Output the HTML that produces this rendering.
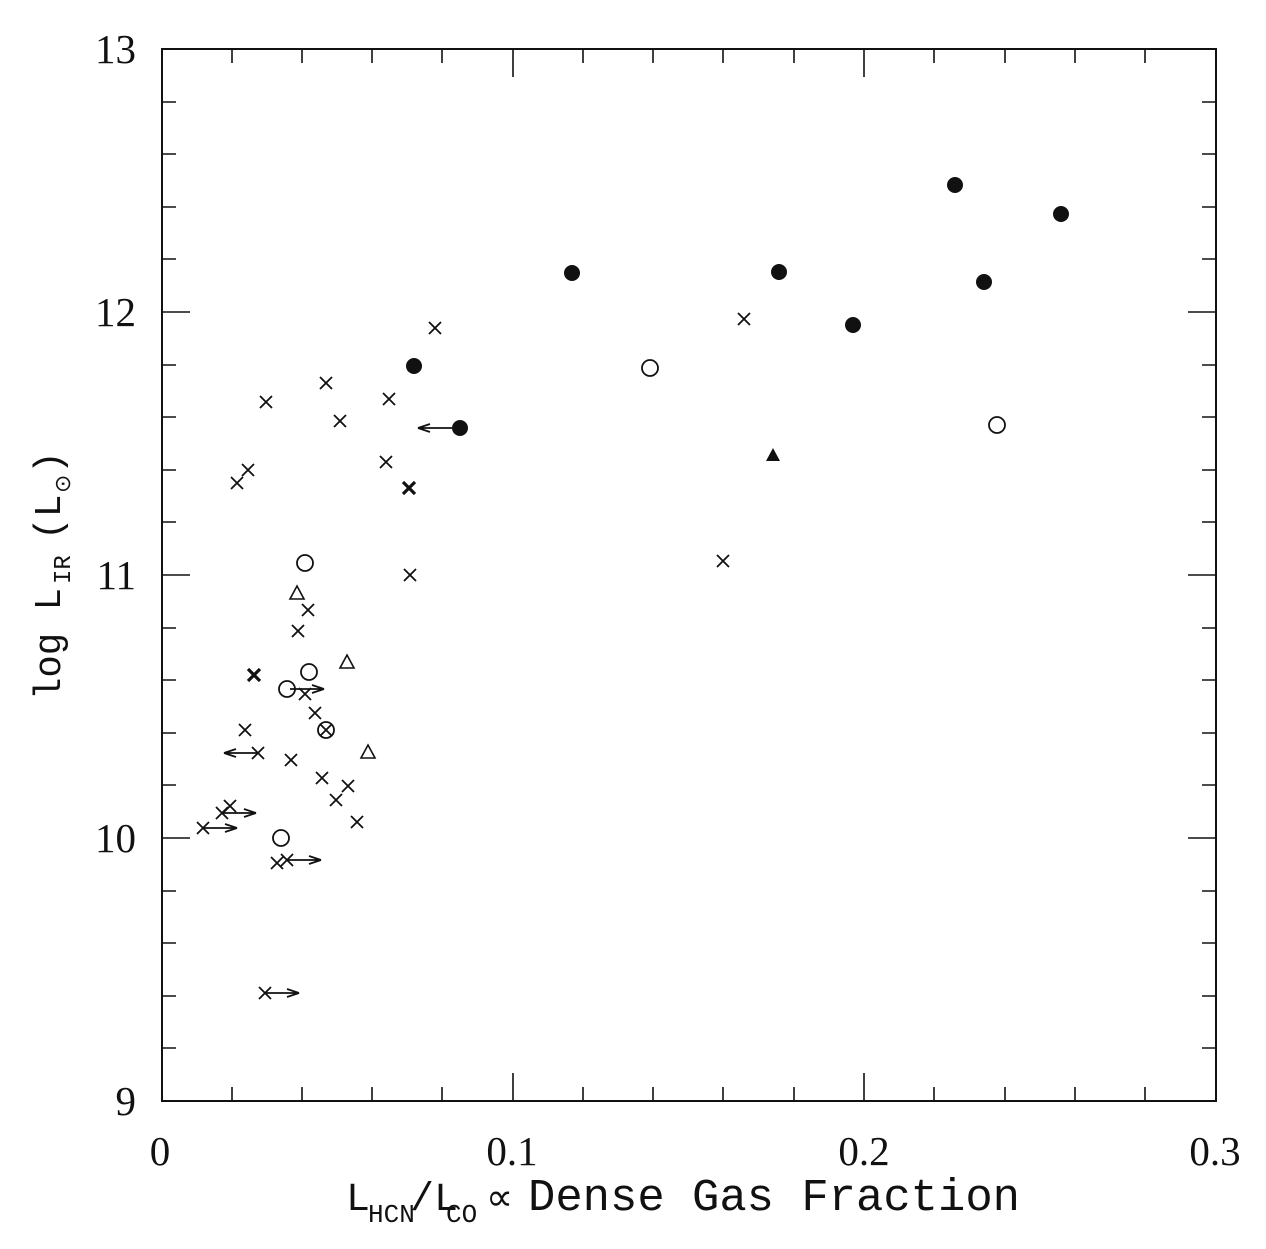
<!DOCTYPE html>
<html><head><meta charset="utf-8"><style>
html,body{margin:0;padding:0;background:#fff;}
svg{display:block;}
text{font-family:"Liberation Serif",serif;fill:#111;}
.m{font-family:"Liberation Mono",monospace;}
</style></head><body>
<svg width="1266" height="1249" viewBox="0 0 1266 1249" xmlns="http://www.w3.org/2000/svg">
<defs>
<g id="x"><path d="M-6,-6L6,6M-6,6L6,-6" stroke="#111" stroke-width="1.8"/></g>
<g id="xb"><path d="M-6,-6L6,6M-6,6L6,-6" stroke="#111" stroke-width="3.2"/></g>
<g id="fc"><circle r="8" fill="#111"/></g>
<g id="oc"><circle r="8" fill="none" stroke="#111" stroke-width="1.8"/></g>
<g id="ot"><path d="M0,-7L7,6L-7,6Z" fill="none" stroke="#111" stroke-width="1.6"/></g>
<g id="ft"><path d="M0,-7L7,6L-7,6Z" fill="#111"/></g>
<g id="ar"><path d="M0,0L34,0M34,0L22,-4M34,0L22,4" stroke="#111" stroke-width="1.8" fill="none"/></g>
<g id="al"><path d="M0,0L-34,0M-34,0L-22,-4M-34,0L-22,4" stroke="#111" stroke-width="1.8" fill="none"/></g>
</defs>
<rect x="162" y="49" width="1054" height="1052" fill="none" stroke="#111" stroke-width="2"/>
<g stroke="#111" stroke-width="1.6">
<path d="M232,1101v-14M302,1101v-14M372,1101v-14M442,1101v-14M513,1101v-28M583,1101v-14M653,1101v-14M723,1101v-14M794,1101v-14M864,1101v-28M934,1101v-14M1005,1101v-14M1075,1101v-14M1145,1101v-14
M232,49v14M302,49v14M372,49v14M442,49v14M513,49v28M583,49v14M653,49v14M723,49v14M794,49v14M864,49v28M934,49v14M1005,49v14M1075,49v14M1145,49v14"/>
<path d="M162,102h14M162,154h14M162,207h14M162,259h14M162,312h28M162,365h14M162,417h14M162,470h14M162,522h14M162,575h28M162,628h14M162,680h14M162,733h14M162,785h14M162,838h28M162,891h14M162,943h14M162,996h14M162,1048h14
M1216,102h-14M1216,154h-14M1216,207h-14M1216,259h-14M1216,312h-28M1216,365h-14M1216,417h-14M1216,470h-14M1216,522h-14M1216,575h-28M1216,628h-14M1216,680h-14M1216,733h-14M1216,785h-14M1216,838h-28M1216,891h-14M1216,943h-14M1216,996h-14M1216,1048h-14"/>
</g>
<g font-size="41">
<text x="136" y="63" text-anchor="end">13</text>
<text x="136" y="326" text-anchor="end">12</text>
<text x="136" y="589" text-anchor="end">11</text>
<text x="136" y="852" text-anchor="end">10</text>
<text x="136" y="1115" text-anchor="end">9</text>
<text x="160" y="1165" text-anchor="middle">0</text>
<text x="512" y="1165" text-anchor="middle">0.1</text>
<text x="864" y="1165" text-anchor="middle">0.2</text>
<text x="1215" y="1165" text-anchor="middle">0.3</text>
</g>
<g class="m">
<text class="m" x="346" y="1210" font-size="40">L</text>
<text class="m" x="368" y="1222" font-size="26">HCN</text>
<text class="m" x="410" y="1210" font-size="40">/L</text>
<text class="m" x="446" y="1222" font-size="26">CO</text>
<text x="486" y="1210" font-size="38">∝</text>
<text class="m" x="528" y="1210" font-size="45" textLength="492" lengthAdjust="spacingAndGlyphs">Dense Gas Fraction</text>
</g>
<g transform="translate(60,700) rotate(-90)">
<text class="m" x="0" y="0" font-size="38" textLength="112" lengthAdjust="spacingAndGlyphs">log L</text>
<text class="m" x="116" y="10" font-size="24">IR</text>
<text class="m" x="160" y="0" font-size="38">(L</text>
<text x="207" y="10" font-size="22">⊙</text>
<text class="m" x="226" y="0" font-size="38">)</text>
</g>
<use href="#fc" x="414" y="366"/><use href="#fc" x="460" y="428"/><use href="#al" x="452" y="428"/>
<use href="#fc" x="572" y="273"/><use href="#fc" x="779" y="272"/><use href="#fc" x="853" y="325"/>
<use href="#fc" x="955" y="185"/><use href="#fc" x="984" y="282"/><use href="#fc" x="1061" y="214"/>
<use href="#oc" x="650" y="368"/><use href="#oc" x="997" y="425"/><use href="#oc" x="305" y="563"/>
<use href="#oc" x="309" y="672"/><use href="#oc" x="287" y="689"/><use href="#oc" x="281" y="838"/>
<use href="#oc" x="326" y="730"/><use href="#x" x="326" y="730"/>
<use href="#ot" x="297" y="593"/><use href="#ot" x="347" y="662"/><use href="#ot" x="368" y="752"/>
<use href="#ft" x="773" y="455"/>
<use href="#x" x="435" y="328"/><use href="#x" x="744" y="319"/><use href="#x" x="326" y="383"/>
<use href="#x" x="266" y="402"/><use href="#x" x="340" y="421"/><use href="#x" x="389" y="399"/>
<use href="#x" x="386" y="462"/><use href="#x" x="248" y="470"/><use href="#x" x="237" y="483"/>
<use href="#xb" x="409" y="488"/><use href="#x" x="410" y="575"/><use href="#x" x="723" y="561"/>
<use href="#x" x="308" y="610"/><use href="#x" x="298" y="631"/><use href="#xb" x="254" y="675"/>
<use href="#x" x="305" y="694"/><use href="#ar" x="290" y="689"/>
<use href="#x" x="315" y="713"/><use href="#x" x="245" y="730"/>
<use href="#x" x="258" y="753"/><use href="#al" x="258" y="753"/>
<use href="#x" x="291" y="760"/><use href="#x" x="322" y="778"/><use href="#x" x="348" y="786"/>
<use href="#x" x="336" y="800"/><use href="#x" x="357" y="822"/>
<use href="#x" x="230" y="806"/><use href="#x" x="222" y="813"/><use href="#ar" x="222" y="813"/>
<use href="#x" x="203" y="828"/><use href="#ar" x="203" y="828"/>
<use href="#x" x="277" y="863"/><use href="#x" x="287" y="860"/><use href="#ar" x="287" y="860"/>
<use href="#x" x="265" y="993"/><use href="#ar" x="265" y="993"/>
</svg>
</body></html>
